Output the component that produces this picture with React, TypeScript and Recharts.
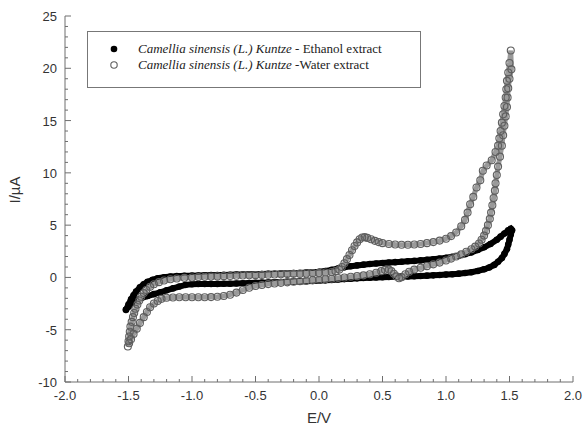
import React from 'react';
import { ScatterChart, Scatter, XAxis, YAxis, Legend, Label } from 'recharts';

// ---- Data (E in V, I in µA) ----
const ethanolForwardE = [-1.52, -1.5, -1.48, -1.46, -1.44, -1.41, -1.38, -1.35, -1.31, -1.27, -1.22, -1.17, -1.12, -1.06, -1.0, -0.95, -0.9, -0.85, -0.8, -0.75, -0.7, -0.65, -0.6, -0.55, -0.5, -0.45, -0.4, -0.35, -0.3, -0.25, -0.2, -0.15, -0.1, -0.05, 0.0, 0.05, 0.1, 0.15, 0.2, 0.25, 0.3, 0.35, 0.4, 0.45, 0.5, 0.55, 0.6, 0.65, 0.7, 0.75, 0.8, 0.85, 0.9, 0.95, 1.0, 1.05, 1.1, 1.15, 1.2, 1.25, 1.3, 1.35, 1.4, 1.43, 1.46, 1.49, 1.51];
const ethanolForwardI = [-3.1, -2.6, -2.1, -1.7, -1.35, -0.95, -0.65, -0.42, -0.22, -0.08, 0.02, 0.08, 0.12, 0.15, 0.17, 0.19, 0.2, 0.22, 0.23, 0.24, 0.26, 0.27, 0.28, 0.3, 0.31, 0.32, 0.34, 0.35, 0.37, 0.39, 0.41, 0.43, 0.46, 0.5, 0.55, 0.62, 0.72, 0.85, 0.97, 1.07, 1.15, 1.22, 1.28, 1.33, 1.38, 1.42, 1.46, 1.5, 1.54, 1.58, 1.63, 1.68, 1.74, 1.8, 1.88, 1.97, 2.08, 2.22, 2.4, 2.62, 2.88, 3.2, 3.6, 3.9, 4.2, 4.5, 4.65];

const ethanolReverseE = [1.52, 1.51, 1.5, 1.49, 1.48, 1.46, 1.44, 1.41, 1.38, 1.34, 1.3, 1.25, 1.2, 1.15, 1.1, 1.05, 1.0, 0.95, 0.9, 0.85, 0.8, 0.75, 0.7, 0.65, 0.6, 0.55, 0.5, 0.45, 0.4, 0.35, 0.3, 0.25, 0.2, 0.15, 0.1, 0.05, 0.0, -0.05, -0.1, -0.15, -0.2, -0.25, -0.3, -0.35, -0.4, -0.45, -0.5, -0.55, -0.6, -0.65, -0.7, -0.75, -0.8, -0.85, -0.9, -0.95, -1.0, -1.05, -1.1, -1.15, -1.2, -1.25, -1.3, -1.35, -1.4, -1.44, -1.47, -1.5, -1.52];
const ethanolReverseI = [4.5, 4.1, 3.6, 3.15, 2.7, 2.25, 1.85, 1.5, 1.2, 0.95, 0.78, 0.62, 0.5, 0.42, 0.36, 0.31, 0.27, 0.23, 0.2, 0.17, 0.14, 0.12, 0.1, 0.08, 0.06, 0.04, 0.02, 0.0, -0.03, -0.06, -0.09, -0.12, -0.16, -0.2, -0.24, -0.28, -0.31, -0.34, -0.36, -0.38, -0.4, -0.42, -0.44, -0.46, -0.48, -0.5, -0.52, -0.54, -0.56, -0.58, -0.6, -0.61, -0.62, -0.62, -0.62, -0.63, -0.65, -0.71, -0.87, -1.05, -1.23, -1.42, -1.6, -1.78, -1.97, -2.2, -2.45, -2.8, -3.1];

const waterForwardE = [-1.505, -1.5, -1.495, -1.49, -1.485, -1.475, -1.465, -1.455, -1.445, -1.43, -1.415, -1.4, -1.38, -1.36, -1.33, -1.3, -1.26, -1.22, -1.17, -1.12, -1.06, -1.0, -0.95, -0.9, -0.85, -0.8, -0.75, -0.7, -0.65, -0.6, -0.55, -0.5, -0.45, -0.4, -0.35, -0.3, -0.25, -0.2, -0.15, -0.1, -0.05, 0.0, 0.05, 0.1, 0.13, 0.16, 0.18, 0.2, 0.22, 0.24, 0.26, 0.28, 0.3, 0.32, 0.34, 0.36, 0.38, 0.41, 0.44, 0.47, 0.5, 0.55, 0.6, 0.65, 0.7, 0.75, 0.8, 0.85, 0.9, 0.95, 1.0, 1.04, 1.08, 1.12, 1.15, 1.17, 1.19, 1.215, 1.24, 1.27, 1.29, 1.32, 1.36, 1.39, 1.41, 1.42, 1.43, 1.44, 1.45, 1.46, 1.47, 1.475, 1.48, 1.49, 1.5, 1.51];
const waterForwardI = [-6.6, -6.1, -5.65, -5.2, -4.7, -4.25, -3.8, -3.4, -3.0, -2.6, -2.2, -1.85, -1.5, -1.2, -0.9, -0.65, -0.45, -0.3, -0.18, -0.1, -0.04, 0.0, 0.03, 0.06, 0.08, 0.1, 0.12, 0.14, 0.16, 0.18, 0.2, 0.22, 0.24, 0.26, 0.28, 0.3, 0.32, 0.34, 0.36, 0.38, 0.41, 0.44, 0.47, 0.52, 0.6, 0.75, 1.0, 1.35, 1.75, 2.15, 2.6, 3.0, 3.35, 3.65, 3.82, 3.85, 3.78, 3.65, 3.5, 3.38, 3.28, 3.2, 3.15, 3.13, 3.13, 3.15, 3.2, 3.28, 3.38, 3.52, 3.7, 3.95, 4.3, 4.9, 5.5, 6.2, 7.0, 7.7, 8.6, 9.3, 10.2, 10.7, 11.2, 12.0, 12.6, 13.3, 14.0, 14.8, 15.6, 16.4, 17.2, 18.0, 18.8, 19.6, 20.5, 21.7];

const waterReverseE = [1.515, 1.5, 1.49, 1.485, 1.48, 1.47, 1.46, 1.45, 1.44, 1.425, 1.41, 1.4, 1.39, 1.385, 1.375, 1.365, 1.355, 1.345, 1.33, 1.315, 1.3, 1.28, 1.26, 1.23, 1.2, 1.16, 1.12, 1.08, 1.04, 1.0, 0.95, 0.9, 0.85, 0.8, 0.75, 0.71, 0.68, 0.65, 0.63, 0.61, 0.59, 0.57, 0.55, 0.52, 0.49, 0.45, 0.4, 0.35, 0.3, 0.25, 0.2, 0.15, 0.1, 0.05, 0.0, -0.05, -0.1, -0.15, -0.2, -0.25, -0.3, -0.35, -0.4, -0.45, -0.5, -0.55, -0.6, -0.65, -0.7, -0.75, -0.8, -0.85, -0.9, -0.95, -1.0, -1.05, -1.1, -1.15, -1.2, -1.24, -1.27, -1.3, -1.33, -1.355, -1.38, -1.41, -1.435, -1.46, -1.48, -1.495];
const waterReverseI = [19.9, 19.0, 18.1, 17.2, 16.3, 15.4, 14.5, 13.6, 12.6, 11.55, 10.6, 9.8, 9.0, 8.3, 7.6, 6.9, 6.2, 5.6, 5.0, 4.45, 4.0, 3.6, 3.25, 2.95, 2.7, 2.45, 2.2, 2.0, 1.8, 1.62, 1.42, 1.25, 1.08, 0.92, 0.75, 0.55, 0.3, 0.02, -0.08, 0.1, 0.35, 0.6, 0.75, 0.72, 0.6, 0.45, 0.3, 0.2, 0.12, 0.06, 0.0, -0.06, -0.12, -0.17, -0.22, -0.27, -0.32, -0.37, -0.42, -0.47, -0.52, -0.58, -0.64, -0.72, -0.82, -0.98, -1.2, -1.45, -1.65, -1.78, -1.85, -1.88, -1.9, -1.9, -1.9, -1.9, -1.9, -1.92, -1.95, -2.05, -2.25, -2.5, -2.85, -3.3, -3.8, -4.35, -4.9, -5.4, -5.9, -6.3];

const xTicks = Array.from({ length: 41 }, (_, k) => Math.round((-2 + k * 0.1) * 10) / 10);
const yTicks = Array.from({ length: 36 }, (_, k) => -10 + k);

const seriesNames = [
  { italic: 'Camellia sinensis (L.) Kuntze', rest: ' - Ethanol extract' },
  { italic: 'Camellia sinensis (L.) Kuntze', rest: ' -Water extract' },
];

const toPoints = (es: number[], is: number[]) => es.map((e, k) => ({ e, i: is[k] }));
const ethanolData = [...toPoints(ethanolForwardE, ethanolForwardI), ...toPoints(ethanolReverseE, ethanolReverseI)];
const waterData = [...toPoints(waterForwardE, waterForwardI), ...toPoints(waterReverseE, waterReverseI)];

const AXIS = '#6e6e6e';
const TICKFONT = "'Liberation Sans', Arial, sans-serif";
const isMajor = (v: number, step: number) => Math.abs(v / step - Math.round(v / step)) < 1e-6;

const BottomTick = (p: any) => {
  const v = p.payload.value;
  const major = isMajor(v, 0.5);
  return (
    <g>
      <line x1={p.x} y1={p.y} x2={p.x} y2={p.y - (major ? 6 : 3)} stroke={AXIS} />
      {major && (
        <text x={p.x} y={p.y + 18} textAnchor="middle" fontSize={13} fill="#333" fontFamily={TICKFONT}>
          {v.toFixed(1)}
        </text>
      )}
    </g>
  );
};
const TopTick = (p: any) => {
  const v = p.payload.value;
  const major = isMajor(v, 0.5);
  return <line x1={p.x} y1={p.y} x2={p.x} y2={p.y + (major ? 6 : 3)} stroke={AXIS} />;
};
const LeftTick = (p: any) => {
  const v = p.payload.value;
  const major = isMajor(v, 5);
  return (
    <g>
      <line x1={p.x} y1={p.y} x2={p.x + (major ? 6 : 3)} y2={p.y} stroke={AXIS} />
      {major && (
        <text x={p.x - 8} y={p.y + 5} textAnchor="end" fontSize={13} fill="#333" fontFamily={TICKFONT}>
          {v}
        </text>
      )}
    </g>
  );
};
const RightTick = (p: any) => {
  const v = p.payload.value;
  const major = isMajor(v, 5);
  return <line x1={p.x} y1={p.y} x2={p.x - (major ? 6 : 3)} y2={p.y} stroke={AXIS} />;
};

const FilledDot = (p: any) => <circle cx={p.cx} cy={p.cy} r={3.3} fill="#000" />;
const OpenDot = (p: any) => <circle cx={p.cx} cy={p.cy} r={3.5} fill="none" stroke="#5e5e5e" strokeWidth={1.1} />;

const LegendBox = () => (
  <div
    style={{
      width: 334,
      height: 57,
      boxSizing: 'border-box',
      border: '1px solid #777',
      background: '#fff',
      fontFamily: "'Liberation Serif', 'Times New Roman', serif",
      fontSize: 13,
      color: '#222',
      paddingTop: 9,
    }}
  >
    {seriesNames.map((s, k) => (
      <div key={k} style={{ display: 'flex', alignItems: 'center', height: 16 }}>
        <svg width={50} height={16}>
          {k === 0 ? (
            <circle cx={26} cy={8} r={3.3} fill="#000" />
          ) : (
            <circle cx={26} cy={8} r={3.2} fill="none" stroke="#5e5e5e" strokeWidth={1.1} />
          )}
        </svg>
        <span>
          <i>{s.italic}</i>
          {s.rest}
        </span>
      </div>
    ))}
  </div>
);

export default function App() {
  return (
    <div style={{ position: 'absolute', left: 0, top: 0, background: '#fff' }}>
      <ScatterChart width={583} height={439} margin={{ top: 16, right: 10, bottom: 27, left: 20 }}>
        <XAxis
          xAxisId="b"
          dataKey="e"
          type="number"
          domain={[-2, 2]}
          ticks={xTicks}
          interval={0}
          tickSize={0}
          tickMargin={0}
          tickLine={false}
          axisLine={{ stroke: AXIS }}
          tick={<BottomTick />}
          height={30}
          allowDataOverflow
        >
          <Label
            content={(props: any) => {
              const vb = props.viewBox;
              return (
                <text x={vb.x + vb.width / 2} y={vb.y + 41} textAnchor="middle" fontSize={15} fill="#333" fontFamily={TICKFONT}>
                  E/V
                </text>
              );
            }}
          />
        </XAxis>
        <XAxis
          xAxisId="t"
          orientation="top"
          type="number"
          domain={[-2, 2]}
          ticks={xTicks}
          interval={0}
          tickSize={0}
          tickMargin={0}
          tickLine={false}
          axisLine={{ stroke: AXIS }}
          tick={<TopTick />}
          height={0}
          allowDataOverflow
        />
        <YAxis
          yAxisId="l"
          dataKey="i"
          type="number"
          domain={[-10, 25]}
          ticks={yTicks}
          interval={0}
          tickSize={0}
          tickMargin={0}
          tickLine={false}
          axisLine={{ stroke: AXIS }}
          tick={<LeftTick />}
          width={45}
          allowDataOverflow
        >
          <Label
            content={(props: any) => {
              const vb = props.viewBox;
              const cx = vb.x - 6;
              const cy = vb.y + vb.height / 2 - 9;
              return (
                <text x={cx} y={cy} transform={`rotate(-90 ${cx} ${cy})`} textAnchor="middle" dominantBaseline="central" fontSize={15} fill="#333" fontFamily={TICKFONT}>
                  I/µA
                </text>
              );
            }}
          />
        </YAxis>
        <YAxis
          yAxisId="r"
          orientation="right"
          type="number"
          domain={[-10, 25]}
          ticks={yTicks}
          interval={0}
          tickSize={0}
          tickMargin={0}
          tickLine={false}
          axisLine={{ stroke: AXIS }}
          tick={<RightTick />}
          width={0}
          allowDataOverflow
        />
        <Legend
          layout="vertical"
          align="center"
          verticalAlign="middle"
          content={() => <LegendBox />}
          wrapperStyle={{ left: 87, top: 31, width: 334, height: 57 }}
        />
        <Scatter
          name="Ethanol extract"
          data={ethanolData}
          xAxisId="b"
          yAxisId="l"
          line={{ stroke: '#000', strokeWidth: 6 }}
          lineType="joint"
          shape={<FilledDot />}
          isAnimationActive={false}
        />
        <Scatter
          name="Water extract"
          data={waterData}
          xAxisId="b"
          yAxisId="l"
          line={{ stroke: '#9a9a9a', strokeWidth: 5 }}
          lineType="joint"
          shape={<OpenDot />}
          isAnimationActive={false}
        />
      </ScatterChart>
    </div>
  );
}
